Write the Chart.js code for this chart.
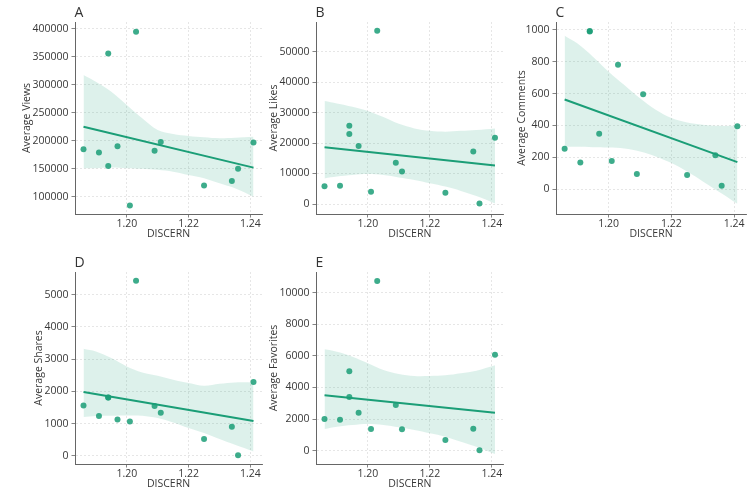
<!DOCTYPE html>
<html><head><meta charset="utf-8">
<script src="https://cdn.jsdelivr.net/npm/chart.js@4.4.1/dist/chart.umd.min.js"></script>
<style>
html,body{margin:0;padding:0;background:#fff;width:750px;height:498px;overflow:hidden}
canvas{position:absolute;left:0;top:0}
</style></head><body>
<canvas id="cA" width="750" height="498"></canvas>
<canvas id="cB" width="750" height="498"></canvas>
<canvas id="cC" width="750" height="498"></canvas>
<canvas id="cD" width="750" height="498"></canvas>
<canvas id="cE" width="750" height="498"></canvas>
<script>
// ---- data ----
const discern   = [1.186, 1.191, 1.194, 1.194, 1.197, 1.201, 1.203, 1.209, 1.211, 1.225, 1.234, 1.236, 1.241];
const views     = [185000, 179000, 356000, 155000, 190000, 84000, 395000, 182000, 198000, 120000, 128000, 150000, 197000];
const likes     = [5800, 6000, 25700, 23000, 19000, 4000, 56800, 13500, 10700, 3700, 17200, 200, 21700];
const comments  = [253, 167, 993, 990, 347, 176, 782, 94, 596, 88, 213, 21, 395];
const shares    = [1568, 1240, 1816, 1810, 1134, 1072, 5433, 1549, 1342, 527, 908, 20, 2293];
const favorites = [2006, 1962, 5025, 3399, 2405, 1373, 10740, 2892, 1354, 677, 1392, 25, 6076];

// regression line end points
const fitX = [1.186, 1.241];
const fitViews = [225000, 152000];
const fitLikes = [18600, 12600];
const fitComments = [563, 169];
const fitShares = [1983, 1085];
const fitFavorites = [3506, 2405];

// confidence band
const bandX = [1.186, 1.19, 1.195, 1.20, 1.205, 1.21, 1.215, 1.22, 1.225, 1.23, 1.235, 1.241];
const viewsUpper = [317600, 305700, 287800, 264000, 240200, 219300, 212200, 208600, 206300, 204500, 205500, 207300];
const viewsLower = [151000, 151000, 152000, 151000, 150000, 148000, 144700, 138800, 132900, 124000, 115000, 100000];
const likesUpper = [33800, 33000, 31900, 30500, 28500, 26300, 24800, 24000, 23700, 24000, 24300, 24800];
const likesLower = [8400, 9000, 9500, 9800, 9500, 8700, 7900, 6800, 5700, 4300, 2600, 200];
const commentsUpper = [964, 916, 832, 738, 654, 571, 498, 446, 418, 404, 397, 397];
const commentsLower = [267, 265, 263, 261, 255, 236, 205, 163, 110, 48, -15, -92];
const sharesUpper = [3325, 3241, 3037, 2777, 2591, 2488, 2364, 2262, 2178, 2240, 2281, 2281];
const sharesLower = [1209, 1240, 1249, 1258, 1249, 1177, 1041, 868, 713, 527, 350, 143];
const favoritesUpper = [6418, 6266, 5949, 5532, 5108, 4854, 4728, 4728, 4770, 4897, 5063, 5405];
const favoritesLower = [1373, 1519, 1627, 1690, 1627, 1481, 1310, 1101, 886, 570, 253, -209];

// ticks
const xTicks = [1.20, 1.22, 1.24];
const viewsTicks = [100000, 150000, 200000, 250000, 300000, 350000, 400000];
const likesTicks = [0, 10000, 20000, 30000, 40000, 50000];
const commentsTicks = [0, 200, 400, 600, 800, 1000];
const sharesTicks = [0, 1000, 2000, 3000, 4000, 5000];
const favoritesTicks = [0, 2000, 4000, 6000, 8000, 10000];

// ---- style ----
const POINT = 'rgba(27,158,119,0.85)';
const LINE = '#1b9e77';
const BAND = 'rgba(27,158,119,0.15)';
const FONT = '"Open Sans", "DejaVu Sans", sans-serif';
const TXT = '#383838';
const FS = 10.5;
const TITLE_OFF = FS * 1.2 / 2;
const XH = 26.6;

const letterPlugin = {
  id: 'letter',
  afterDraw(chart, args, opts) {
    const ctx = chart.ctx;
    ctx.save();
    ctx.font = '14px ' + FONT;
    ctx.fillStyle = '#333';
    ctx.textBaseline = 'alphabetic';
    ctx.textAlign = 'left';
    ctx.fillText(opts.text, chart.chartArea.left - 0.5, chart.chartArea.top - 4.7);
    ctx.restore();
  }
};

function panel(id, letter, yTitle, values, fit, upper, lower, yTicks, ymin, ymax, box) {
  // box: spine left, right, top, bottom, y-title center x
  const yw = box.l - box.tx + TITLE_OFF;
  new Chart(document.getElementById(id), {
    type: 'scatter',
    data: { datasets: [
      { data: discern.map((x, i) => ({ x, y: values[i] })), backgroundColor: POINT, borderColor: POINT, borderWidth: 0, pointRadius: 3, showLine: false },
      { data: fitX.map((x, i) => ({ x, y: fit[i] })), showLine: true, borderColor: LINE, borderWidth: 2, pointRadius: 0 },
      { data: bandX.map((x, i) => ({ x, y: upper[i] })), showLine: true, borderColor: 'transparent', borderWidth: 0, pointRadius: 0, fill: '+1', backgroundColor: BAND, tension: 0.35 },
      { data: bandX.map((x, i) => ({ x, y: lower[i] })), showLine: true, borderColor: 'transparent', borderWidth: 0, pointRadius: 0, fill: false, tension: 0.35 }
    ] },
    options: {
      responsive: false, animation: false, events: [],
      layout: { padding: { left: box.tx - TITLE_OFF, right: 750 - box.r, top: box.t, bottom: 498 - box.b - XH } },
      plugins: { legend: { display: false }, tooltip: { enabled: false }, letter: { text: letter } },
      scales: {
        x: {
          type: 'linear', min: 1.18325, max: 1.24375,
          afterBuildTicks: s => { s.ticks = xTicks.map(v => ({ value: v })); },
          afterFit: s => { s.height = XH; },
          ticks: { font: { family: FONT, size: FS }, color: TXT, padding: 0, maxRotation: 0, callback: v => v.toFixed(2) },
          grid: { color: '#e0e0e0', tickColor: '#666', tickLength: 3.5, lineWidth: 0.8 },
          border: { color: '#666', width: 1, dash: [2, 2] },
          title: { display: true, text: 'DISCERN', font: { family: FONT, size: FS }, color: TXT, padding: 0 }
        },
        y: {
          type: 'linear', min: ymin, max: ymax,
          afterBuildTicks: s => { s.ticks = yTicks.map(v => ({ value: v })); },
          afterFit: s => { s.width = yw; },
          ticks: { font: { family: FONT, size: FS }, color: TXT, padding: 3, callback: v => String(v) },
          grid: { color: '#e0e0e0', tickColor: '#666', tickLength: 3.5, lineWidth: 0.8 },
          border: { color: '#666', width: 1, dash: [2, 2] },
          title: { display: true, text: yTitle, font: { family: FONT, size: FS }, color: TXT, padding: 0 }
        }
      }
    },
    plugins: [letterPlugin]
  });
}

panel('cA', 'A', 'Average Views', views, fitViews, viewsUpper, viewsLower, viewsTicks, 69000, 412500, { l: 75, r: 262, t: 22, b: 214, tx: 27 });
panel('cB', 'B', 'Average Likes', likes, fitLikes, likesUpper, likesLower, likesTicks, -3280, 59700, { l: 316, r: 503.5, t: 22, b: 214, tx: 274 });
panel('cC', 'C', 'Average Comments', comments, fitComments, commentsUpper, commentsLower, commentsTicks, -157, 1050, { l: 556, r: 747, t: 22, b: 214, tx: 521.7 });
panel('cD', 'D', 'Average Shares', shares, fitShares, sharesUpper, sharesLower, sharesTicks, -248, 5703, { l: 75, r: 262, t: 272, b: 464, tx: 39.3 });
panel('cE', 'E', 'Average Favorites', favorites, fitFavorites, favoritesUpper, favoritesLower, favoritesTicks, -842, 11310, { l: 316, r: 503.5, t: 272, b: 464, tx: 274 });
</script>
</body></html>
